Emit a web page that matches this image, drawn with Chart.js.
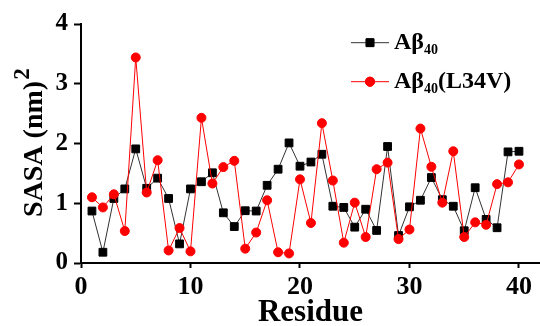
<!DOCTYPE html>
<html>
<head>
<meta charset="utf-8">
<script src="https://cdn.jsdelivr.net/npm/chart.js@4/dist/chart.umd.min.js"></script>
<style>
  html, body { margin: 0; padding: 0; background: #fff; }
  #wrap { width: 540px; height: 326px; }
</style>
</head>
<body>
<div id="wrap"><canvas id="sasaChart" width="540" height="326"></canvas></div>
<script>
// ── DATA ─────────────────────────────────────────────
const residues = [1, 2, 3, 4, 5, 6, 7, 8, 9, 10,
                  11, 12, 13, 14, 15, 16, 17, 18, 19, 20,
                  21, 22, 23, 24, 25, 26, 27, 28, 29, 30,
                  31, 32, 33, 34, 35, 36, 37, 38, 39, 40];

// SASA (nm^2) of wild type Aβ40
const sasaWT = [0.87, 0.18, 1.08, 1.24, 1.91, 1.25, 1.42, 1.08, 0.32, 1.24,
                1.36, 1.51, 0.84, 0.61, 0.875, 0.87, 1.30, 1.57, 2.01, 1.62,
                1.69, 1.82, 0.95, 0.93, 0.60, 0.90, 0.545, 1.95, 0.46, 0.94,
                1.05, 1.43, 1.06, 0.95, 0.54, 1.26, 0.73, 0.59, 1.86, 1.87];

// SASA (nm^2) of the L34V mutant
const sasaL34V = [1.10, 0.93, 1.15, 0.535, 3.44, 1.18, 1.72, 0.21, 0.585, 0.195,
                  2.43, 1.33, 1.605, 1.71, 0.24, 0.51, 1.05, 0.18, 0.16, 1.40,
                  0.67, 2.34, 1.38, 0.34, 1.01, 0.435, 1.57, 1.68, 0.40, 0.56,
                  2.25, 1.61, 1.01, 1.87, 0.435, 0.68, 0.64, 1.32, 1.35, 1.65];

const xTicks = [0, 10, 20, 30, 40];
const yTicks = [0, 1, 2, 3, 4];

const FONT = '"Liberation Serif", "Times New Roman", serif';

// ── CUSTOM LEGEND + Y TITLE (need sub/superscripts) ──
const extrasPlugin = {
  id: 'extras',
  afterDraw(chart) {
    const ctx = chart.ctx;
    ctx.save();

    // y axis title "SASA (nm)²"
    ctx.translate(42, 217);
    ctx.rotate(-Math.PI / 2);
    ctx.fillStyle = '#000';
    ctx.textBaseline = 'alphabetic';
    ctx.textAlign = 'left';
    ctx.font = 'bold 28px ' + FONT;
    ctx.fillText('SASA (nm)', 0, 0);
    const w = ctx.measureText('SASA (nm)').width;
    ctx.font = 'bold 23px ' + FONT;
    ctx.fillText('2', w + 1, -13);
    ctx.restore();

    // legend rows
    const rows = [
      { ds: chart.data.datasets[1], y: 42.7, suffix: '' },
      { ds: chart.data.datasets[0], y: 81.7, suffix: '(L34V)' }
    ];
    rows.forEach(r => {
      ctx.save();
      ctx.strokeStyle = r.ds.borderColor;
      ctx.lineWidth = 1;
      ctx.beginPath();
      ctx.moveTo(351, r.y);
      ctx.lineTo(389, r.y);
      ctx.stroke();
      Chart.helpers.drawPoint(ctx, {
        pointStyle: r.ds.pointStyle,
        radius: r.ds.pointRadius,
        borderWidth: 1
      }, 370, r.y);
      ctx.fillStyle = r.ds.pointBackgroundColor;
      ctx.strokeStyle = r.ds.pointBorderColor;
      ctx.fill();
      ctx.stroke();

      const base = r.y + 6.5;
      ctx.fillStyle = '#000';
      ctx.textBaseline = 'alphabetic';
      ctx.font = 'bold 24px ' + FONT;
      ctx.fillText('Aβ', 394, base);
      let x = 394 + ctx.measureText('Aβ').width;
      ctx.font = 'bold 14px ' + FONT;
      ctx.fillText('40', x, base + 5);
      x += ctx.measureText('40').width;
      if (r.suffix) {
        ctx.font = 'bold 24px ' + FONT;
        ctx.fillText(r.suffix, x, base);
      }
      ctx.restore();
    });
  }
};

// ── LINE CHART ───────────────────────────────────────
const ctx = document.getElementById('sasaChart').getContext('2d');

new Chart(ctx, {
  type: 'line',
  data: {
    labels: residues,
    datasets: [
      {
        label: 'Aβ40(L34V)',
        data: residues.map((r, i) => ({ x: r, y: sasaL34V[i] })),
        borderColor: '#ff0000',
        borderWidth: 1,
        pointStyle: 'circle',
        pointRadius: 4.5,
        pointBackgroundColor: '#ff0000',
        pointBorderColor: '#ff0000',
        pointBorderWidth: 1,
        tension: 0,
        order: 0
      },
      {
        label: 'Aβ40',
        data: residues.map((r, i) => ({ x: r, y: sasaWT[i] })),
        borderColor: '#333333',
        borderWidth: 1,
        pointStyle: 'rect',
        pointRadius: 5.5,
        pointBackgroundColor: '#000000',
        pointBorderColor: '#000000',
        pointBorderWidth: 1,
        tension: 0,
        order: 1
      }
    ]
  },
  options: {
    responsive: false,
    animation: false,
    layout: { autoPadding: false, padding: { top: 24, right: 0, left: 0, bottom: 0 } },
    plugins: {
      legend: { display: false },
      tooltip: { enabled: false }
    },
    scales: {
      x: {
        type: 'linear',
        min: 0,
        max: 41.92,
        afterBuildTicks: s => { s.ticks = xTicks.map(v => ({ value: v })); },
        afterFit: s => { s.height = 63; s.paddingRight = 0; s.paddingLeft = 0; },
        border: { color: '#000', width: 2 },
        grid: { drawOnChartArea: false, tickLength: 5, tickColor: '#000', tickWidth: 2 },
        ticks: { color: '#000', padding: 4, font: { family: FONT, size: 26, weight: 'bold' } },
        title: {
          display: true,
          text: 'Residue',
          color: '#000',
          padding: { top: 0, bottom: -6 },
          font: { family: FONT, size: 31, weight: 'bold' }
        }
      },
      y: {
        min: 0,
        max: 4,
        afterBuildTicks: s => { s.ticks = yTicks.map(v => ({ value: v })); },
        afterFit: s => { s.width = 81; s.paddingTop = 0; s.paddingBottom = 0; },
        border: { color: '#000', width: 2 },
        grid: { drawOnChartArea: false, tickLength: 7, tickColor: '#000', tickWidth: 2 },
        ticks: { color: '#000', padding: 6, font: { family: FONT, size: 25, weight: 'bold' } }
      }
    }
  },
  plugins: [extrasPlugin]
});
</script>
</body>
</html>
